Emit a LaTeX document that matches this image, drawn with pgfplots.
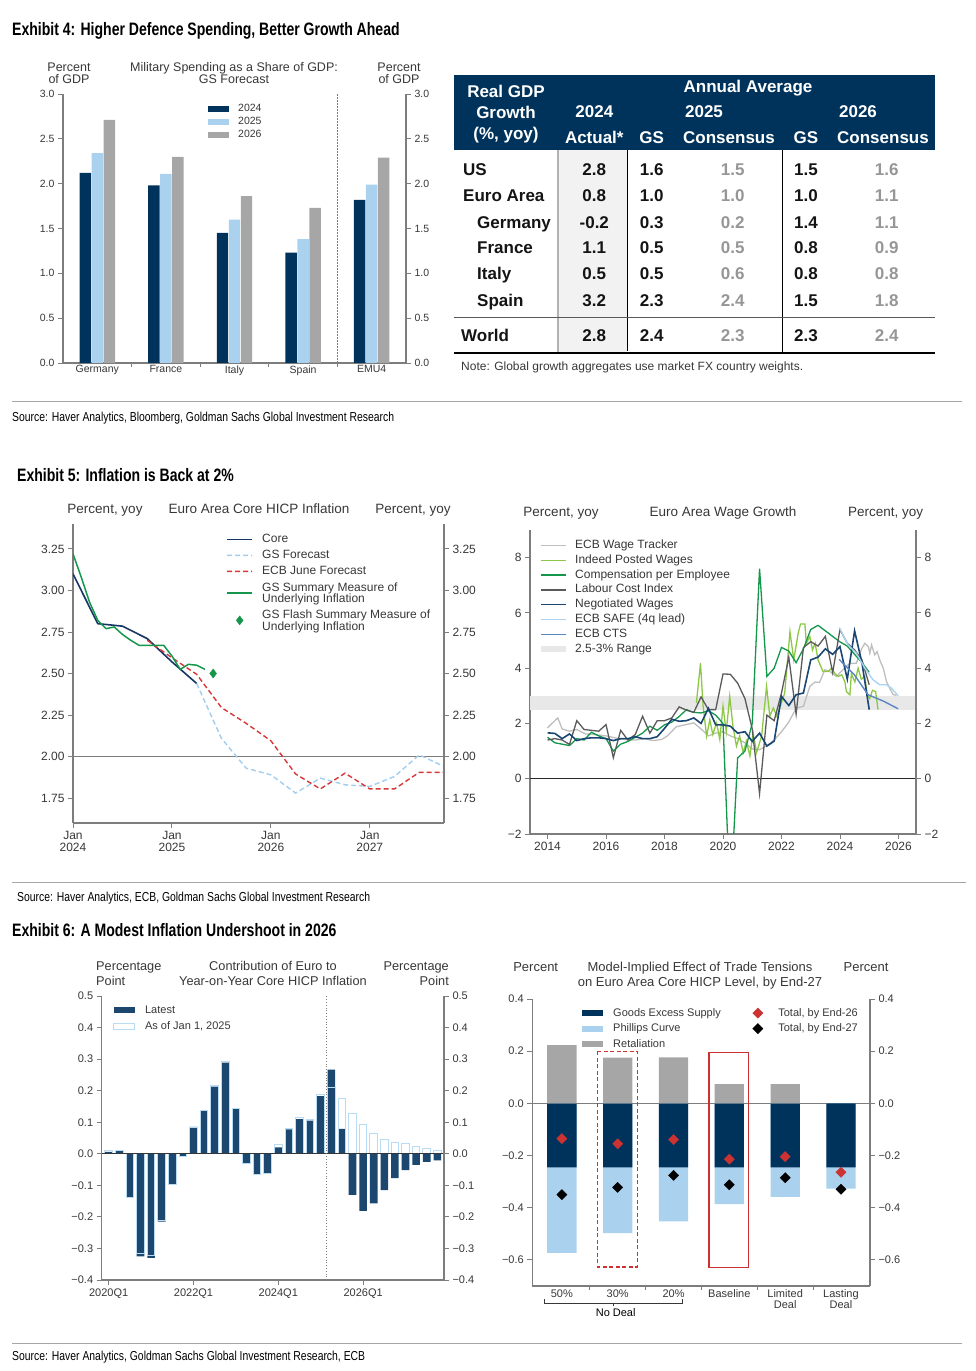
\documentclass[border=0pt]{standalone}
\usepackage{fontspec}
\setmainfont{Liberation Sans}
\newfontfamily\condfont{Liberation Sans}[FakeStretch=0.78]
\newfontfamily\srcfont{Liberation Sans}[FakeStretch=0.8]
\usepackage{pgfplots}
\pgfplotsset{compat=1.18}

\definecolor{navy}{RGB}{0,51,91}
\definecolor{navyb}{RGB}{28,72,112}
\definecolor{skyb}{RGB}{170,209,238}
\definecolor{barg}{RGB}{166,166,166}
\definecolor{axg}{RGB}{125,125,125}
\definecolor{txt}{RGB}{55,55,55}
\definecolor{consg}{RGB}{150,150,150}
\definecolor{shadecol}{RGB}{242,242,242}
\definecolor{corec}{RGB}{22,54,100}
\definecolor{gsfc}{RGB}{160,205,240}
\definecolor{ecbred}{RGB}{214,55,55}
\definecolor{gsgreen}{RGB}{20,150,75}
\definecolor{wtrack}{RGB}{190,190,190}
\definecolor{indeed}{RGB}{140,200,70}
\definecolor{lci}{RGB}{90,90,90}
\definecolor{negw}{RGB}{25,70,115}
\definecolor{safe}{RGB}{170,212,242}
\definecolor{cts}{RGB}{90,135,195}
\definecolor{band}{RGB}{232,232,232}
\definecolor{outl}{RGB}{185,220,245}
\definecolor{diared}{RGB}{205,50,50}

\newcommand\fs[2]{\fontsize{#1}{#2}\selectfont}
\newcommand\twoline[2]{\vbox{\baselineskip=11.5pt\hbox{#1}\hbox{#2}}}

% series styles
\tikzset{
  sCore/.style={draw=corec, line width=1.6pt},
  sGSF/.style={draw=gsfc, line width=1.4pt, dash pattern=on 5pt off 3pt},
  sECB/.style={draw=ecbred, line width=1.4pt, dash pattern=on 5pt off 3pt},
  sSum/.style={draw=gsgreen, line width=1.5pt},
  sWT/.style={draw=wtrack, line width=1.3pt},
  sInd/.style={draw=indeed, line width=1.3pt},
  sComp/.style={draw=gsgreen, line width=1.3pt},
  sLCI/.style={draw=lci, line width=1.3pt},
  sNeg/.style={draw=negw, line width=1.6pt},
  sSafe/.style={draw=safe, line width=1.4pt},
  sCTS/.style={draw=cts, line width=1.4pt},
}

\pgfplotsset{
  gs/.style={
    scale only axis, anchor=south west,
    axis line style={draw=axg, line width=1.1pt},
    every tick/.style={draw=axg, line width=0.9pt},
    tick align=outside, major tick length=5pt, minor tick length=4pt,
    ticklabel style={text=txt},
    axis x line*=bottom, axis y line*=left,
    xtick pos=left, ytick pos=left,
    legend cell align=left,
    legend style={draw=none, fill=none, inner sep=0pt, text=txt},
  },
  rightax/.style={axis x line=none, axis y line*=right, ytick pos=right, yticklabel pos=right},
  boxleg/.style={legend image code/.code={\path[##1] (0pt,-3pt) rectangle (#1,3pt);}},
  boxleg/.default=21pt,
  % legend samples for lines, drawn as thin filled strips
  solidleg/.style={legend image code/.code={\fill[fill=#1, draw=none] (0pt,-0.75pt) rectangle (25pt,0.75pt);}},
  dashleg/.style={legend image code/.code={\fill[fill=#1, draw=none] (0pt,-0.7pt) rectangle (5pt,0.7pt)
      (8pt,-0.7pt) rectangle (13pt,0.7pt) (16pt,-0.7pt) rectangle (21pt,0.7pt) (24pt,-0.7pt) rectangle (25pt,0.7pt);}},
  markleg/.style={legend image code/.code={\path[draw=none, fill=none] (0pt,-1pt) rectangle (#1,1pt); \draw[##1] plot coordinates {({#1/2},0pt)};}},
  markleg/.default=21pt,
  % positions of the five axes
  posA/.style={at={(63pt,1008pt)}, width=343pt, height=269pt, xmin=-0.5, xmax=4.5, ymin=0, ymax=3,
    ytick={0,0.5,1,1.5,2,2.5,3}, yticklabels={0.0,0.5,1.0,1.5,2.0,2.5,3.0}, ticklabel style={font=\fs{10.5}{12}}},
  posB/.style={at={(73pt,548pt)}, width=371pt, height=299pt, xmin=0, xmax=45, ymin=1.6, ymax=3.4,
    ytick={1.75,2,2.25,2.5,2.75,3,3.25}, yticklabels={1.75,2.00,2.25,2.50,2.75,3.00,3.25}, ticklabel style={font=\fs{12}{12}}},
  posC/.style={at={(530pt,537pt)}, width=386pt, height=304pt, xmin=2013.4, xmax=2026.6, ymin=-2, ymax=9,
    ytick={-2,0,2,4,6,8}, yticklabels={−2,0,2,4,6,8}, ticklabel style={font=\fs{12}{12}}},
  posD/.style={at={(101.7pt,91pt)}, width=342.3pt, height=284pt, xmin=-0.66, xmax=31.63, ymin=-0.4, ymax=0.5,
    ytick={-0.4,-0.3,-0.2,-0.1,0,0.1,0.2,0.3,0.4,0.5},
    yticklabels={−0.4,−0.3,−0.2,−0.1,0.0,0.1,0.2,0.3,0.4,0.5}, ticklabel style={font=\fs{11}{11}}},
  posE/.style={at={(532.3pt,85pt)}, width=337.7pt, height=287pt, xmin=-0.53, xmax=5.52, ymin=-0.7, ymax=0.4,
    ytick={-0.6,-0.4,-0.2,0,0.2,0.4}, yticklabels={−0.6,−0.4,−0.2,0.0,0.2,0.4}, ticklabel style={font=\fs{11}{11}}},
}

\begin{document}
\begin{tikzpicture}
\path[use as bounding box] (0pt,0pt) rectangle (976pt,1371pt);

% ---------------- Exhibit 4: military spending bars
\begin{axis}[gs, posA,
  xtick={0,1,2,3,4}, xticklabels={Germany,France,Italy,Spain,EMU4},
  major x tick style={draw=none}, minor xtick={0.5,1.5,2.5,3.5},
  xticklabel style={yshift=6pt},
  legend style={at={(0.4227,0.9677)}, anchor=north west, font=\fs{10.5}{13},
    nodes={inner xsep=9pt, inner ysep=0pt, text height=9.1pt, text depth=3.9pt}},
]
\addplot[ybar, bar width=11.4pt, bar shift=-12pt, boxleg, fill=navy, draw=none]
  coordinates {(0,2.12) (1,1.98) (2,1.45) (3,1.23) (4,1.82)};
\addlegendentry{2024}
\addplot[ybar, bar width=11.4pt, bar shift=0pt, boxleg, fill=skyb, draw=none]
  coordinates {(0,2.34) (1,2.11) (2,1.60) (3,1.38) (4,1.99)};
\addlegendentry{2025}
\addplot[ybar, bar width=11.4pt, bar shift=12pt, boxleg, fill=barg, draw=none]
  coordinates {(0,2.71) (1,2.30) (2,1.86) (3,1.73) (4,2.29)};
\addlegendentry{2026}
\draw[axg, line width=0.7pt, dash pattern=on 1.5pt off 1.5pt] (axis cs:3.5,0) -- (axis cs:3.5,3);
\end{axis}
\begin{axis}[gs, posA, rightax]
\end{axis}

% ---------------- Exhibit 5 left: core HICP
\begin{axis}[gs, posB,
  xtick={0,12,24,36}, xticklabels={Jan\\2024,Jan\\2025,Jan\\2026,Jan\\2027},
  xticklabel style={align=center},
  legend style={at={(0.4151,0.976)}, anchor=north west, font=\fs{12}{16},
    nodes={inner xsep=10pt, inner ysep=0pt, text height=11.2pt, text depth=4.8pt}},
]
\addplot[forget plot, axg, line width=0.8pt] coordinates {(0,2) (45,2)};
\addplot[forget plot, sCore]
  coordinates {(0,3.10) (3,2.80) (6,2.785) (9,2.71) (12,2.57) (15,2.44)};
\addplot[forget plot, sGSF]
  coordinates {(15,2.44) (18,2.11) (21,1.93) (24,1.89) (27,1.78) (30,1.87) (33,1.83)
               (36,1.82) (39,1.88) (42,2.01) (45,1.94)};
\addplot[forget plot, sECB]
  coordinates {(9,2.70) (12,2.595) (15,2.495) (18,2.295) (21,2.20) (24,2.095) (27,1.895)
               (30,1.805) (33,1.90) (36,1.805) (39,1.805) (42,1.905) (45,1.905)};
\addplot[forget plot, sSum]
  coordinates {(0,3.22) (1,3.08) (2,2.93) (3,2.82) (4,2.77) (5,2.78) (6,2.735) (7,2.70)
               (8,2.67) (9,2.67) (10,2.67) (11,2.67) (12,2.605) (13,2.525) (14,2.555)
               (15,2.55) (16,2.525)};
\addplot[forget plot, only marks, mark=diamond*, mark size=4.5pt, color=gsgreen] coordinates {(17,2.50)};
\addlegendimage{solidleg=corec}
\addlegendentry{Core}
\addlegendimage{dashleg=gsfc}
\addlegendentry{GS Forecast}
\addlegendimage{dashleg=ecbred}
\addlegendentry{ECB June Forecast}
\addlegendimage{solidleg=gsgreen}
\addlegendentry[text height=23.5pt, text depth=3.5pt]{\twoline{GS Summary Measure of}{Underlying Inflation}}
\addlegendimage{markleg=25pt, only marks, mark=diamond*, mark size=4.5pt, color=gsgreen}
\addlegendentry[text height=24pt, text depth=4pt]{\twoline{GS Flash Summary Measure of}{Underlying Inflation}}
\end{axis}
\begin{axis}[gs, posB, rightax]
\end{axis}

% ---------------- Exhibit 5 right: wage growth
\begin{axis}[gs, posC,
  xtick={2014,2016,2018,2020,2022,2024,2026}, xticklabels={2014,2016,2018,2020,2022,2024,2026},
  legend style={at={(0.0285,0.974)}, anchor=north west, font=\fs{12}{14.8},
    nodes={inner xsep=9pt, inner ysep=0pt, text height=10.4pt, text depth=4.4pt}},
]
\addplot[forget plot, fill=band, draw=none]
  coordinates {(2013.4,2.5) (2013.4,3) (2026.6,3) (2026.6,2.5)};
\addplot[forget plot, black!85, line width=0.8pt] coordinates {(2013.4,0) (2026.6,0)};
\addplot[forget plot, sWT] coordinates {
  (2014.0,1.84) (2014.15,2.0) (2014.35,2.2) (2014.5,1.8) (2014.75,1.72) (2015.0,1.78)
  (2015.3,1.62) (2015.6,1.60) (2016.0,1.55) (2016.3,1.48) (2016.6,1.42) (2017.0,1.40)
  (2017.3,1.45) (2017.6,1.38) (2017.9,1.42) (2018.1,1.55) (2018.4,1.88) (2018.7,1.95)
  (2019.0,2.02) (2019.25,1.80) (2019.5,1.55) (2019.75,1.65) (2020.0,1.70) (2020.25,1.55)
  (2020.5,1.45) (2020.75,1.30) (2021.0,1.08) (2021.25,1.05) (2021.5,1.20) (2021.75,1.40)
  (2022.0,1.70) (2022.25,2.05) (2022.5,2.55) (2022.75,2.62) (2022.97,3.34) (2023.15,3.50)
  (2023.3,3.48) (2023.48,3.94) (2023.65,3.88) (2023.88,3.70) (2024.1,3.94) (2024.34,4.18)
  (2024.56,4.18) (2024.74,4.70) (2024.85,4.90) (2024.97,4.78) (2025.02,4.54) (2025.08,4.84)
  (2025.19,4.48) (2025.27,4.60) (2025.36,4.30) (2025.48,4.00) (2025.59,3.52) (2025.7,3.28)
  (2025.82,3.04) (2025.93,3.02)};
\addplot[forget plot, sInd] coordinates {
  (2019.09,2.74) (2019.23,4.18) (2019.32,2.62) (2019.44,1.54) (2019.55,2.14) (2019.65,1.60)
  (2019.78,2.02) (2019.89,1.42) (2020.0,2.62) (2020.11,1.70) (2020.23,2.98) (2020.34,1.90)
  (2020.46,1.18) (2020.57,1.55) (2020.69,0.94) (2020.8,1.36) (2020.92,0.82) (2021.03,1.66)
  (2021.15,0.95) (2021.32,1.54) (2021.49,3.34) (2021.6,2.26) (2021.72,2.56) (2021.84,2.26)
  (2021.95,2.60) (2022.11,3.10) (2022.29,5.32) (2022.42,4.30) (2022.57,5.26) (2022.65,5.60)
  (2022.8,5.60) (2022.85,4.90) (2022.97,5.14) (2023.06,4.66) (2023.15,4.90) (2023.25,4.30)
  (2023.42,3.88) (2023.6,3.88) (2023.71,4.00) (2023.83,3.80) (2023.94,3.70) (2024.06,3.76)
  (2024.17,3.50) (2024.22,3.15) (2024.34,3.04) (2024.39,3.80) (2024.51,3.50) (2024.62,4.00)
  (2024.73,3.60) (2024.85,3.70) (2024.93,3.04) (2025.02,2.90) (2025.11,3.20) (2025.22,3.15)
  (2025.3,2.50)};
\addplot[forget plot, sComp] coordinates {
  (2014.0,1.50) (2014.25,1.30) (2014.5,1.25) (2014.75,1.20) (2015.0,1.45) (2015.25,1.40)
  (2015.5,1.68) (2015.75,1.55) (2016.0,1.45) (2016.25,1.00) (2016.5,1.25) (2016.75,1.35)
  (2017.0,1.50) (2017.25,1.65) (2017.5,1.90) (2017.75,1.75) (2018.0,1.95) (2018.25,2.05)
  (2018.5,2.25) (2018.75,2.50) (2019.0,2.40) (2019.25,2.38) (2019.5,2.46) (2019.75,2.30)
  (2020.0,2.00) (2020.25,-4.50) (2020.5,0.75) (2020.75,1.00) (2021.0,2.00) (2021.25,7.60)
  (2021.5,3.70) (2021.75,4.00) (2022.0,4.75) (2022.25,4.62) (2022.5,4.20) (2022.75,4.70)
  (2023.0,5.40) (2023.25,5.55) (2023.5,5.35) (2023.75,5.15) (2024.0,4.95) (2024.25,4.80)
  (2024.5,4.50) (2024.75,4.20) (2025.0,3.85)};
\addplot[forget plot, sLCI] coordinates {
  (2014.0,1.40) (2014.25,1.45) (2014.5,1.40) (2014.75,1.24) (2015.0,2.10) (2015.25,1.78)
  (2015.5,1.75) (2015.75,1.72) (2016.0,1.96) (2016.25,0.76) (2016.5,1.75) (2016.75,1.40)
  (2017.0,1.60) (2017.25,2.26) (2017.5,1.65) (2017.75,2.10) (2018.0,2.10) (2018.25,2.20)
  (2018.5,2.60) (2018.75,2.48) (2019.0,2.40) (2019.25,2.96) (2019.5,2.50) (2019.75,2.50)
  (2020.0,3.79) (2020.25,3.78) (2020.5,3.46) (2020.75,2.90) (2021.0,1.80) (2021.25,-0.54)
  (2021.5,2.30) (2021.75,2.10) (2022.0,3.10) (2022.25,4.40) (2022.5,2.34) (2022.75,4.74)
  (2023.0,4.96) (2023.25,4.80) (2023.5,5.15) (2023.75,3.84) (2024.0,5.40) (2024.25,4.90)
  (2024.5,4.66) (2024.75,4.30) (2025.0,3.40)};
\addplot[forget plot, sNeg] coordinates {
  (2014.0,1.66) (2014.25,1.64) (2014.5,1.45) (2014.75,1.62) (2015.0,1.38) (2015.25,1.45)
  (2015.5,1.48) (2015.75,1.48) (2016.0,1.45) (2016.25,1.38) (2016.5,1.45) (2016.75,1.45)
  (2017.0,1.52) (2017.25,1.45) (2017.5,1.45) (2017.75,1.52) (2018.0,1.82) (2018.25,2.15)
  (2018.5,2.08) (2018.75,2.10) (2019.0,2.20) (2019.25,2.00) (2019.5,2.55) (2019.75,1.95)
  (2020.0,1.95) (2020.25,1.90) (2020.5,1.65) (2020.75,1.70) (2021.0,1.35) (2021.25,1.65)
  (2021.5,1.18) (2021.75,1.36) (2022.0,2.98) (2022.25,2.65) (2022.5,3.04) (2022.75,3.10)
  (2023.0,4.30) (2023.25,4.40) (2023.5,4.70) (2023.75,4.50) (2024.0,4.78) (2024.25,3.60)
  (2024.5,5.35) (2024.75,4.20) (2025.0,2.50)};
\addplot[forget plot, sSafe] coordinates {
  (2023.99,5.44) (2024.28,4.84) (2024.56,4.54) (2024.85,4.00) (2025.13,3.58) (2025.36,3.40)
  (2025.59,3.40) (2025.76,3.28) (2025.99,3.00)};
\addplot[forget plot, sCTS] coordinates {
  (2023.97,4.32) (2024.5,3.75) (2024.96,3.04) (2025.5,2.80) (2025.99,2.53)};
\addlegendimage{solidleg=wtrack}
\addlegendentry{ECB Wage Tracker}
\addlegendimage{solidleg=indeed}
\addlegendentry{Indeed Posted Wages}
\addlegendimage{solidleg=gsgreen}
\addlegendentry{Compensation per Employee}
\addlegendimage{solidleg=lci}
\addlegendentry{Labour Cost Index}
\addlegendimage{solidleg=negw}
\addlegendentry{Negotiated Wages}
\addlegendimage{solidleg=safe}
\addlegendentry{ECB SAFE (4q lead)}
\addlegendimage{solidleg=cts}
\addlegendentry{ECB CTS}
\addlegendimage{boxleg=25pt, fill=band, draw=none}
\addlegendentry{2.5-3\% Range}
\end{axis}
\begin{axis}[gs, posC, rightax]
\end{axis}

% ---------------- Exhibit 6 left: euro contribution bars
\begin{axis}[gs, posD,
  xtick={0,8,16,24}, xticklabels={2020Q1,2022Q1,2024Q1,2026Q1},
  legend style={at={(0.033,0.9796)}, anchor=north west, font=\fs{11}{16},
    nodes={inner xsep=10pt, inner ysep=0pt, text height=11.2pt, text depth=4.8pt}},
]
\addplot[ybar, bar width=7.6pt, boxleg, fill=navyb, draw=none] coordinates {
  (0,0.006) (1,0.009) (2,-0.140) (3,-0.325) (4,-0.330) (5,-0.215) (6,-0.097) (7,-0.007)
  (8,0.085) (9,0.138) (10,0.213) (11,0.289) (12,0.143) (13,-0.031) (14,-0.066) (15,-0.064)
  (16,0.020) (17,0.077) (18,0.110) (19,0.105) (20,0.183) (21,0.267) (22,0.079) (23,-0.130)
  (24,-0.181) (25,-0.157) (26,-0.115) (27,-0.077) (28,-0.052) (29,-0.035) (30,-0.026) (31,-0.021)};
\addlegendentry{Latest}
\addplot[ybar, bar width=7.6pt, boxleg, fill=none, draw=outl, line width=0.9pt] coordinates {
  (0,0.010) (1,0.012) (2,-0.137) (3,-0.317) (4,-0.322) (5,-0.211) (6,-0.097) (7,-0.007)
  (8,0.085) (9,0.138) (10,0.216) (11,0.293) (12,0.145) (13,-0.030) (14,-0.066) (15,-0.063)
  (16,0.028) (17,0.080) (18,0.114) (19,0.108) (20,0.188) (21,0.211) (22,0.175) (23,0.128)
  (24,0.092) (25,0.063) (26,0.044) (27,0.036) (28,0.032) (29,0.022) (30,0.017) (31,0.011)};
\addlegendentry{As of Jan 1, 2025}
\addplot[forget plot, txt, line width=0.9pt] coordinates {(-0.66,0) (31.63,0)};
\draw[axg, line width=0.8pt, dotted] (axis cs:20.5,-0.4) -- (axis cs:20.5,0.5);
\end{axis}
\begin{axis}[gs, posD, rightax]
\end{axis}

% ---------------- Exhibit 6 right: trade tensions
\begin{axis}[gs, posE,
  xtick={0,1,2,3,4,5}, xticklabels={50\%,30\%,20\%,Baseline,Limited\\Deal,Lasting\\Deal},
  xticklabel style={align=center, yshift=5pt},
  major x tick style={draw=none}, minor xtick={0.5,1.5,2.5,3.5,4.5},
  legend columns=2,
  legend style={at={(0.1472,0.9786)}, anchor=north west, font=\fs{11}{15.5},
    nodes={inner xsep=10pt, inner ysep=0pt, text height=10.85pt, text depth=4.65pt},
    /tikz/every even column/.append style={column sep=16.5pt}},
]
\addplot[forget plot, axg, line width=0.9pt] coordinates {(-0.53,0) (5.52,0)};
\addplot[forget plot, ybar, bar width=29.3pt, fill=skyb, draw=none]
  coordinates {(0,-0.573) (1,-0.497) (2,-0.452) (3,-0.386) (4,-0.358) (5,-0.327)};
\addplot[forget plot, ybar, bar width=29.3pt, fill=navy, draw=none]
  coordinates {(0,-0.245) (1,-0.245) (2,-0.245) (3,-0.245) (4,-0.245) (5,-0.245)};
\addplot[forget plot, ybar, bar width=29.3pt, fill=barg, draw=none]
  coordinates {(0,0.223) (1,0.175) (2,0.176) (3,0.074) (4,0.074)};
\addplot[forget plot, only marks, mark=square*, mark options={rotate=45}, mark size=3.6pt, diared]
  coordinates {(0,-0.135) (1,-0.155) (2,-0.139) (3,-0.214) (4,-0.204) (5,-0.264)};
\addplot[forget plot, only marks, mark=square*, mark options={rotate=45}, mark size=3.6pt, black]
  coordinates {(0,-0.350) (1,-0.322) (2,-0.276) (3,-0.312) (4,-0.285) (5,-0.329)};
\draw[diared, line width=1.4pt, dash pattern=on 4pt off 2.5pt] (axis cs:0.633,0.199) rectangle (axis cs:1.35,-0.627);
\draw[diared, line width=1.4pt] (axis cs:2.634,0.195) rectangle (axis cs:3.34,-0.628);
\addlegendimage{boxleg, fill=navy, draw=none}
\addlegendentry{Goods Excess Supply}
\addlegendimage{markleg, only marks, mark=square*, mark options={rotate=45}, mark size=3.6pt, diared}
\addlegendentry{Total, by End-26}
\addlegendimage{boxleg, fill=skyb, draw=none}
\addlegendentry{Phillips Curve}
\addlegendimage{markleg, only marks, mark=square*, mark options={rotate=45}, mark size=3.6pt, black}
\addlegendentry{Total, by End-27}
\addlegendimage{boxleg, fill=barg, draw=none}
\addlegendentry{Retaliation}
\end{axis}
\begin{axis}[gs, posE, rightax]
\end{axis}

% ---------------- text, table and rules (pixel coordinates, y downward)
\begin{scope}[x=1pt, y=-1pt, yshift=1371pt, every node/.style={inner sep=0pt}]
  % titles and sources
  \node[anchor=base west, font=\condfont\bfseries\fs{18}{18}] at (12,35.5) {Exhibit 4: Higher Defence Spending, Better Growth Ahead};
  \node[anchor=base west, font=\condfont\bfseries\fs{18}{18}] at (17,482) {Exhibit 5: Inflation is Back at 2\%};
  \node[anchor=base west, font=\condfont\bfseries\fs{18}{18}] at (12,936.5) {Exhibit 6: A Modest Inflation Undershoot in 2026};
  \node[anchor=base west, font=\srcfont\fs{13}{13}] at (12,421.7) {Source: Haver Analytics, Bloomberg, Goldman Sachs Global Investment Research};
  \node[anchor=base west, font=\srcfont\fs{13}{13}] at (17,902) {Source: Haver Analytics, ECB, Goldman Sachs Global Investment Research};
  \node[anchor=base west, font=\srcfont\fs{13}{13}] at (12,1361) {Source: Haver Analytics, Goldman Sachs Global Investment Research, ECB};
  \draw[gray!70, line width=0.9pt] (12,401) -- (962,401);
  \draw[gray!70, line width=0.9pt] (12,882) -- (966,882);
  \draw[gray!70, line width=0.9pt] (12,1343) -- (962,1343);

  % chart headers
  \begin{scope}[every node/.append style={text=txt, font=\fs{12.5}{12.5}, anchor=base}]
    \node at (69,71.5) {Percent}; \node at (69,83.5) {of GDP};
    \node at (234,71.5) {Military Spending as a Share of GDP:}; \node at (234,83.5) {GS Forecast};
    \node at (399,71.5) {Percent}; \node at (399,83.5) {of GDP};
  \end{scope}
  \begin{scope}[every node/.append style={text=txt, font=\fs{13.5}{13.5}, anchor=base}]
    \node at (105,514) {Percent, yoy};
    \node at (259,514) {Euro Area Core HICP Inflation};
    \node at (413,514) {Percent, yoy};
    \node at (561,517) {Percent, yoy};
    \node at (723,517) {Euro Area Wage Growth};
    \node at (885.7,517) {Percent, yoy};
  \end{scope}
  \begin{scope}[every node/.append style={text=txt, font=\fs{12.75}{12.75}}]
    \node[anchor=base west] at (96,970.6) {Percentage};
    \node[anchor=base west] at (96,985.6) {Point};
    \node[anchor=base] at (273,970.6) {Contribution of Euro to};
    \node[anchor=base] at (273,985.6) {Year-on-Year Core HICP Inflation};
    \node[anchor=base east] at (449,970.6) {Percentage};
    \node[anchor=base east] at (449,985.6) {Point};
  \end{scope}
  \begin{scope}[every node/.append style={text=txt, font=\fs{13}{13}, anchor=base}]
    \node at (535.7,971.7) {Percent};
    \node at (700,971.7) {Model-Implied Effect of Trade Tensions};
    \node at (700,986.7) {on Euro Area Core HICP Level, by End-27};
    \node at (866,971.7) {Percent};
  \end{scope}
  % No Deal bracket
  \draw[txt, line width=0.8pt] (544,1299.5) -- (544,1303) -- (682.7,1303) -- (682.7,1299.5);
  \draw[txt, line width=0.8pt] (613.3,1303) -- (613.3,1306.5);
  \node[anchor=base, text=black, font=\fs{11}{11}] at (615.7,1317) {No Deal};

  % table
  \fill[navy] (454,75) rectangle (935,150);
  \fill[shadecol] (558,150) rectangle (627,352);
  \draw[gray!60, line width=1.6pt] (558,150) -- (558,352);
  \draw[black, line width=0.9pt] (627,150) -- (627,351);
  \draw[black, line width=0.9pt] (782,150) -- (782,352);
  \draw[black!65, line width=0.9pt] (454,317) -- (935,317);
  \draw[black, line width=1.8pt] (454,353) -- (935,353);
  \begin{scope}[every node/.append style={text=white, font=\bfseries\fs{17}{17}, anchor=base}]
    \node at (506,98) {Real GDP};
    \node at (506,119) {Growth};
    \node at (506,140) {(\%, yoy)};
    \node at (748,93) {Annual Average};
    \node at (594.3,118) {2024};
    \node at (704,118) {2025};
    \node at (858,118) {2026};
    \node at (594.3,144) {Actual*};
    \node at (651.7,144) {GS};
    \node at (729,144) {Consensus};
    \node at (806,144) {GS};
    \node at (883,144) {Consensus};
  \end{scope}
  \begin{scope}[every node/.append style={text=black!92, font=\bfseries\fs{17}{17}}]
    \node[anchor=base west] at (463,175.4) {US};
    \node[anchor=base west] at (463,201.8) {Euro Area};
    \node[anchor=base west] at (477,228.1) {Germany};
    \node[anchor=base west] at (477,253.8) {France};
    \node[anchor=base west] at (477,279.8) {Italy};
    \node[anchor=base west] at (477,306.1) {Spain};
    \node[anchor=base west] at (461,341.8) {World};
    \foreach \yy/\a/\b/\c/\d/\e in {175.4/2.8/1.6/1.5/1.5/1.6, 201.8/0.8/1.0/1.0/1.0/1.1,
        228.1/-0.2/0.3/0.2/1.4/1.1, 253.8/1.1/0.5/0.5/0.8/0.9, 279.8/0.5/0.5/0.6/0.8/0.8,
        306.1/3.2/2.3/2.4/1.5/1.8, 341.8/2.8/2.4/2.3/2.3/2.4}{
      \node[anchor=base] at (594.3,\yy) {\a};
      \node[anchor=base] at (651.7,\yy) {\b};
      \node[anchor=base, text=consg] at (732.7,\yy) {\c};
      \node[anchor=base] at (806,\yy) {\d};
      \node[anchor=base, text=consg] at (886.7,\yy) {\e};
    }
  \end{scope}
  \node[anchor=base west, text=txt, font=\fs{12}{12}] at (461,370.3) {Note: Global growth aggregates use market FX country weights.};
\end{scope}
\end{tikzpicture}
\end{document}
